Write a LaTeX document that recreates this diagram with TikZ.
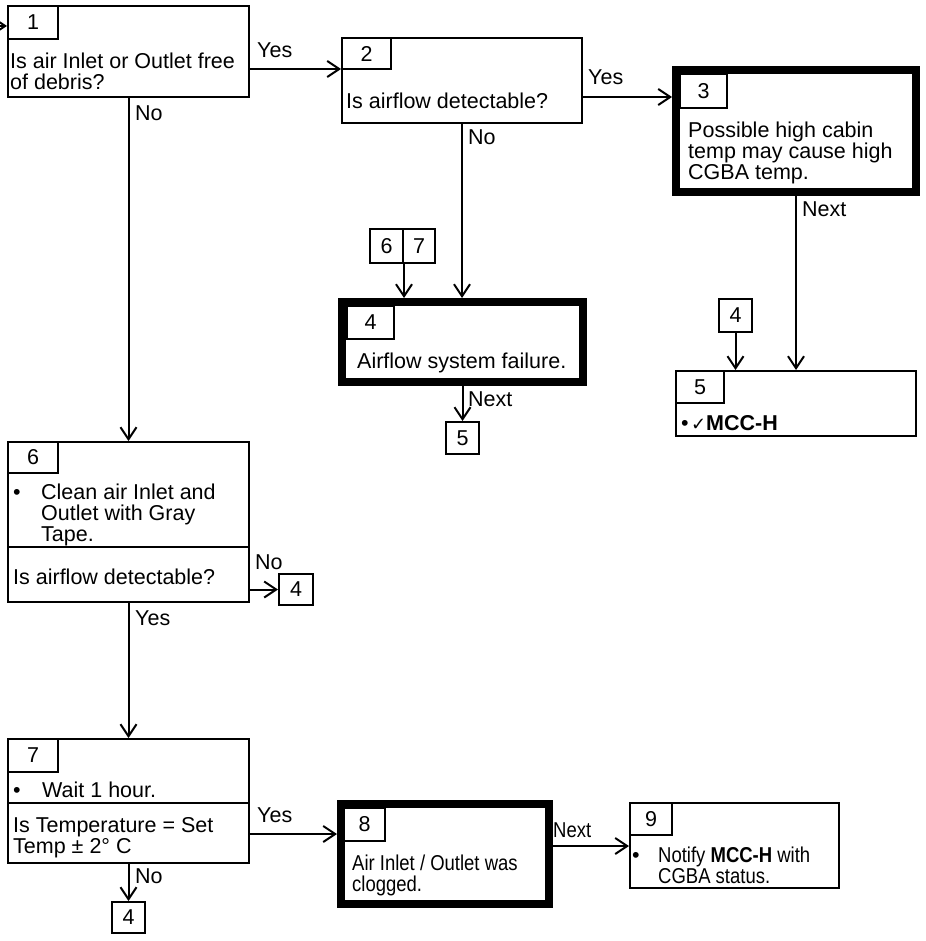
\documentclass[tikz,border=0pt]{standalone}
\usepackage{fontspec}
\setmainfont{Liberation Sans}
\newfontfamily\symfont{DejaVu Sans}
\newfontfamily\condfont[FakeStretch=0.86]{Liberation Sans}
\usetikzlibrary{arrows.meta}
\newcommand\myfs{\fontsize{21.5}{21}\selectfont}
\begin{document}
\begin{tikzpicture}[x=1pt,y=-1pt,
  box/.style={draw, line width=2pt, inner sep=0pt},
  heavy/.style={draw, line width=8pt, inner sep=0pt},
  tab/.style={draw, line width=2pt, inner sep=0pt, font=\myfs},
  txt/.style={anchor=north west, inner sep=0pt, align=left, font=\myfs},
  lbl/.style={anchor=base west, inner sep=0pt, font=\myfs},
  arr/.style={line width=2pt, -{Straight Barb[length=12pt,width=16pt]}}]
\fill[white] (0,0) rectangle (925,941);
\useasboundingbox (0,0) rectangle (925,941);

% main boxes
\node[box, minimum width=241pt, minimum height=91pt] (b1) at (128.5,51.5) {};
\node[box, minimum width=240pt, minimum height=85pt] (b2) at (462,80.5) {};
\node[heavy, minimum width=240pt, minimum height=122pt] (b3) at (796,131) {};
\node[heavy, minimum width=241pt, minimum height=80pt] (b4) at (462.5,342) {};
\node[box, minimum width=240pt, minimum height=65pt] (b5) at (796,403.5) {};
\node[box, minimum width=241pt, minimum height=160pt] (b6) at (128.5,522) {};
\node[box, minimum width=241pt, minimum height=124pt] (b7) at (128.5,801) {};
\node[heavy, minimum width=208pt, minimum height=100pt] (b8) at (445,854) {};
\node[box, minimum width=209pt, minimum height=85pt] (b9) at (734.5,845.5) {};

% tabs
\node[tab, minimum width=50pt, minimum height=33pt] (t1) at (33,22.5) {1};
\node[tab, minimum width=49pt, minimum height=31pt] (t2) at (366.5,53.5) {2};
\node[tab, minimum width=47pt, minimum height=34pt] (t3) at (703.5,91) {3};
\node[tab, minimum width=47pt, minimum height=33pt] (t4) at (370.5,322.5) {4};
\node[tab, minimum width=48pt, minimum height=32pt] (t5) at (700,387) {5};
\node[tab, minimum width=50pt, minimum height=31pt] (t6) at (33,457.5) {6};
\node[tab, minimum width=50pt, minimum height=33pt] (t7) at (33,755.5) {7};
\node[tab, minimum width=41pt, minimum height=33pt] (t8) at (364.5,824.5) {8};
\node[tab, minimum width=42pt, minimum height=32pt] (t9) at (651,819) {9};

% dividers
\draw[line width=2pt] (b6.west |- 0,547) -- (b6.east |- 0,547);
\draw[line width=2pt] (b7.west |- 0,803) -- (b7.east |- 0,803);

% small reference boxes
\node[tab, minimum width=33pt, minimum height=34pt] (s6) at (386.5,246) {6};
\node[tab, minimum width=32pt, minimum height=34pt] (s7) at (419,246) {7};
\node[tab, minimum width=33pt, minimum height=32pt] (s5) at (462.5,438) {5};
\node[tab, minimum width=33pt, minimum height=33pt] (s4a) at (735.5,315.5) {4};
\node[tab, minimum width=34pt, minimum height=31pt] (s4b) at (296,589.5) {4};
\node[tab, minimum width=33pt, minimum height=31pt] (s4c) at (128.5,917.5) {4};

% texts
\node[txt] (x1) at (10,52.5) {Is air Inlet or Outlet free\\of debris?};
\node[txt] (x2) at (346,92.5) {Is airflow detectable?};
\node[txt] (x3) at (688,121.5) {Possible high cabin\\temp may cause high\\CGBA temp.};
\node[txt] (x4) at (357,352.5) {Airflow system failure.};
\node[lbl] (x5a) at (681,430) {•};
\node[lbl, font=\symfont\fontsize{18}{18}\selectfont] (x5b) at (691,430) {✓};
\node[lbl] (x5c) at (706,430) {\bfseries MCC-H};
\node[lbl] (x6a) at (13,499) {•};
\node[txt] (x6b) at (41,483.5) {Clean air Inlet and\\Outlet with Gray\\Tape.};
\node[txt] (x6c) at (13,568.5) {Is airflow detectable?};
\node[lbl] (x7a) at (13,797) {•};
\node[lbl] (x7b) at (42,797) {Wait 1 hour.};
\node[txt] (x7c) at (13,817.5) {Is Temperature = Set\\Temp ± 2° C};
\node[txt, font=\condfont\myfs] (x8) at (352,854.5) {Air Inlet / Outlet was\\clogged.};
\node[lbl] (x9a) at (632,862) {•};
\node[txt, font=\condfont\myfs] (x9b) at (658,846.5) {Notify \textbf{MCC-H} with\\CGBA status.};

% connectors
\coordinate (in) at (0,26);
\draw[arr] (in) -- (in -| b1.west);
\draw[arr] (b1.east |- 0,69) -- (b2.west |- 0,69);
\draw[arr] (b1.south) -- (b6.north);
\draw[arr] (b2.east |- 0,97) -- (b3.west |- 0,97);
\draw[arr] (b2.south) -- (b2.south |- b4.north);
\draw[arr] (s6.south east) -- (s6.south east |- b4.north);
\draw[arr] (b4.south -| s5.north) -- (s5.north);
\draw[arr] (b3.south) -- (b3.south |- b5.north);
\draw[arr] (s4a.south) -- (s4a.south |- b5.north);
\draw[arr] (b6.east |- s4b.west) -- (s4b.west);
\draw[arr] (b6.south) -- (b7.north);
\draw[arr] (b7.east |- 0,834) -- (b8.west |- 0,834);
\draw[arr] (b7.south) -- (s4c.north);
\draw[arr] (b8.east |- 0,846) -- (b9.west |- 0,846);

% connector labels
\node[lbl] (l1) at (257,58) {Yes};
\node[lbl] (l2) at (135,121) {No};
\node[lbl] (l3) at (588,85) {Yes};
\node[lbl] (l4) at (468,145) {No};
\node[lbl] (l5) at (802,217) {Next};
\node[lbl] (l6) at (468,406) {Next};
\node[lbl] (l7) at (255,569) {No};
\node[lbl] (l8) at (135,625) {Yes};
\node[lbl] (l9) at (257,822) {Yes};
\node[lbl] (l10) at (135,883) {No};
\node[lbl, font=\condfont\myfs] (l11) at (553,837) {Next};
\end{tikzpicture}
\end{document}
